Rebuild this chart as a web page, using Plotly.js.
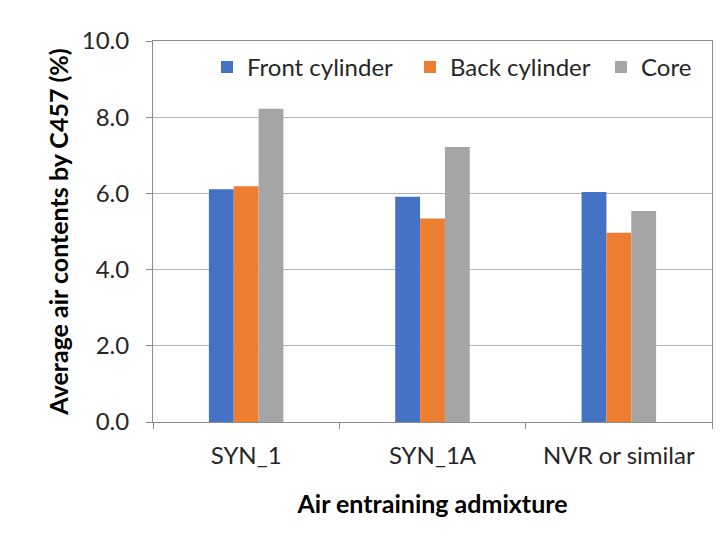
<!DOCTYPE html>
<html>
<head>
<meta charset="utf-8">
<script src="https://cdn.plot.ly/plotly-3.0.1.min.js"></script>
<style>html,body{margin:0;padding:0;background:#fff;}#chart{width:728px;height:539px;}</style>
</head>
<body>
<div id="chart"></div>
<script>
const categories = ["SYN_1", "SYN_1A", "NVR or similar"];
const seriesNames = ["Front cylinder", "Back cylinder", "Core"];
const frontCylinder = [6.11, 5.91, 6.04];
const backCylinder = [6.19, 5.34, 4.97];
const core = [8.22, 7.22, 5.54];
const yTicks = [0, 2, 4, 6, 8, 10];

const colors = ["#4472C4", "#ED7D31", "#A5A5A5"];
const values = [frontCylinder, backCylinder, core];
const legendIds = ["legend", "legend2", "legend3"];
const legendX = [0.0966, 0.4597, 0.8014];
const font = "Lato, Open Sans, sans-serif";

const traces = values.map((v, i) => ({
  type: "bar",
  name: seriesNames[i],
  x: categories,
  y: v,
  legend: legendIds[i],
  marker: {color: colors[i], line: {width: 0}},
  hoverinfo: "skip"
}));

const layout = {
  width: 728, height: 539,
  margin: {l: 153, r: 16, t: 41, b: 117},
  paper_bgcolor: "#fff", plot_bgcolor: "#fff",
  barmode: "group", bargap: 0.6, bargroupgap: 0,
  font: {family: font, color: "#404040", size: 24},
  showlegend: true,
  xaxis: {
    type: "category",
    showline: true, linecolor: "#8c8c8c", linewidth: 1, mirror: true,
    ticks: "outside", tickson: "boundaries", ticklen: 6, tickcolor: "#8c8c8c",
    tickfont: {size: 24, color: "#262626"}, ticklabelstandoff: 12,
    title: {text: "<b>Air entraining admixture</b>", font: {size: 25, color: "#000"}, standoff: 27},
    showgrid: false, fixedrange: true
  },
  yaxis: {
    range: [0, 10], tickvals: yTicks, tickformat: ".1f",
    showline: true, linecolor: "#8c8c8c", linewidth: 1, mirror: true,
    ticks: "outside", ticklen: 6, tickcolor: "#8c8c8c",
    showgrid: true, gridcolor: "#b3b3b3", gridwidth: 1,
    tickfont: {size: 24, color: "#262626"}, ticklabelstandoff: 12,
    title: {text: "<b>Average air contents by C457 (%)</b>", font: {size: 25, color: "#000"}, standoff: 6},
    zeroline: false, fixedrange: true
  }
};

legendIds.forEach((id, i) => {
  layout[id] = {orientation: "h", x: legendX[i], y: 0.99, xanchor: "left", yanchor: "top",
    font: {size: 24, color: "#262626", family: font}, bgcolor: "rgba(0,0,0,0)", itemwidth: 30};
});

Plotly.newPlot("chart", traces, layout, {displayModeBar: false, staticPlot: true});
</script>
</body>
</html>
